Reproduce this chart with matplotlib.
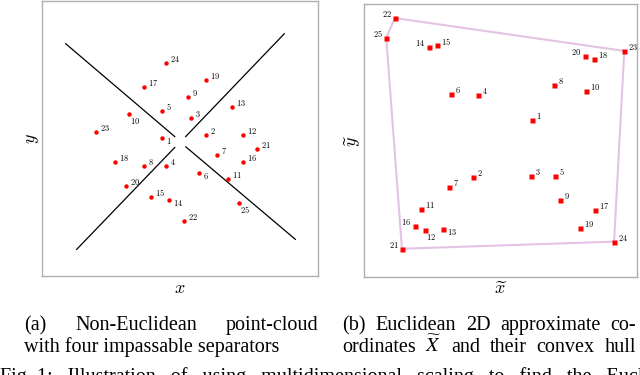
import matplotlib
matplotlib.use("Agg")
import matplotlib.pyplot as plt
import numpy as np

plt.rcParams['mathtext.fontset'] = 'cm'
plt.rcParams['font.family'] = 'Liberation Serif'

# (a) non-euclidean point cloud
ids = list(range(1, 26))
pts_a = {
    1: (-0.128, 0.000), 2: (0.188, 0.024), 3: (0.082, 0.150), 4: (-0.104, -0.201),
    5: (-0.128, 0.198), 6: (0.136, -0.251), 7: (0.268, -0.125), 8: (-0.261, -0.201),
    9: (0.056, 0.297), 10: (-0.367, 0.174), 11: (0.348, -0.299), 12: (0.454, 0.024),
    13: (0.375, 0.225), 14: (-0.078, -0.451), 15: (-0.210, -0.425), 16: (0.454, -0.176),
    17: (-0.263, 0.372), 18: (-0.473, -0.176), 19: (0.188, 0.422), 20: (-0.393, -0.350),
    21: (0.560, -0.076), 22: (0.029, -0.599), 23: (-0.607, 0.049), 24: (-0.104, 0.549),
    25: (0.428, -0.473),
}
# separators: (x0, y0, x1, y1)
separators = [
    (-0.828, 0.686, -0.038, 0.012),
    (0.041, 0.012, 0.756, 0.759),
    (-0.749, -0.807, -0.038, -0.067),
    (0.043, -0.063, 0.836, -0.734),
]

# (b) euclidean 2D approximation
pts_b = {
    1: (0.231, 0.148), 2: (-0.199, -0.267), 3: (0.221, -0.260), 4: (-0.163, 0.331),
    5: (0.401, -0.260), 6: (-0.360, 0.343), 7: (-0.375, -0.338), 8: (0.392, 0.407),
    9: (0.436, -0.438), 10: (0.626, 0.365), 11: (-0.582, -0.502), 12: (-0.553, -0.656),
    13: (-0.423, -0.646), 14: (-0.526, 0.685), 15: (-0.465, 0.697), 16: (-0.629, -0.626),
    17: (0.690, -0.509), 18: (0.687, 0.599), 19: (0.582, -0.643), 20: (0.619, 0.621),
    21: (-0.722, -0.793), 22: (-0.773, 0.897), 23: (0.907, 0.656), 24: (0.832, -0.741),
    25: (-0.837, 0.753),
}
hull = [22, 23, 24, 21, 25]

cap_a = [['(a)', 'Non-Euclidean', 'point-cloud'],
         ['with four impassable separators']]
cap_b = [['(b)', 'Euclidean', '2D', 'approximate', 'co-'],
         ['ordinates', r'$\widetilde{X}$', 'and', 'their', 'convex', 'hull']]
fig_caption = 'Fig. 1:   Illustration   of   using   multidimensional   scaling   to   find   the   Euclidean'

# label placement (pixels)
offsets = {'ur': (4, 4, 'left'), 'ul': (-3.5, 4, 'right'),
           'lr': (4, -3, 'left'), 'b': (0.5, -6.5, 'left')}
place_a = {10: 'b', 25: 'b', 1: 'lr', 6: 'lr', 14: 'lr'}
place_b = {22: 'ul', 25: 'ul', 14: 'ul', 20: 'ul', 16: 'ul', 21: 'ul', 12: 'b', 13: 'lr'}

fig = plt.figure(figsize=(6.4, 3.75), dpi=100)
W, H = 640, 375
ax1 = fig.add_axes([42 / W, 1 - 276 / H, 276 / W, 275.5 / H])
ax2 = fig.add_axes([364 / W, 1 - 277 / H, 273 / W, 273 / H])


def label_points(ax, pts, place):
    for k in ids:
        dx, dy, ha = offsets[place.get(k, 'ur')]
        ax.annotate(f"${k}$", pts[k], xytext=(dx, dy), textcoords='offset pixels',
                    ha=ha, va='center', fontsize=6)


for (x0, y0, x1, y1) in separators:
    ax1.plot([x0, x1], [y0, y1], color='black', lw=0.9)
xa = [pts_a[k][0] for k in ids]
ya = [pts_a[k][1] for k in ids]
ax1.plot(xa, ya, 'o', color='#ff0000', ms=3.2, mec='none')
label_points(ax1, pts_a, place_a)

hx = [pts_b[k][0] for k in hull + hull[:1]]
hy = [pts_b[k][1] for k in hull + hull[:1]]
ax2.plot(hx, hy, color='#e3c3e3', lw=1.5, zorder=1)
xb = [pts_b[k][0] for k in ids]
yb = [pts_b[k][1] for k in ids]
ax2.plot(xb, yb, 's', color='#ff0000', ms=3.6, mec='none', zorder=2)
label_points(ax2, pts_b, place_b)

for ax in (ax1, ax2):
    ax.set_xlim(-1, 1)
    ax.set_ylim(-1, 1)
    ax.set_xticks([])
    ax.set_yticks([])
    for s in ax.spines.values():
        s.set_color('#b0b0b0')
        s.set_linewidth(1.0)

ax1.set_xlabel(r'$x$', fontsize=13, labelpad=3)
ax1.set_ylabel(r'$y$', fontsize=13, labelpad=1)
ax2.set_xlabel(r'$\widetilde{x}$', fontsize=13, labelpad=3)
ax2.set_ylabel(r'$\widetilde{y}$', fontsize=13, labelpad=1)

# captions, justified word by word between x0 and x1 (pixels)
cs = 14.5
renderer = fig.canvas.get_renderer()


def justify(words, x0, x1, ybase):
    texts = [fig.text(0, 1 - ybase / H, w, fontsize=cs, ha='left', va='baseline',
                      math_fontfamily='stix') for w in words]
    widths = [t.get_window_extent(renderer).width for t in texts]
    if len(words) == 1:
        texts[0].set_x(x0 / W)
        return
    gap = (x1 - x0 - sum(widths)) / (len(words) - 1)
    x = x0
    for t, w in zip(texts, widths):
        t.set_x(x / W)
        x += w + gap


justify(cap_a[0], 24, 318, 330)
justify(cap_a[1], 24, 318, 352)
justify(cap_b[0], 342, 636, 330)
justify(cap_b[1], 342, 636, 352)

fig.text(0, 1 - 382 / H, fig_caption, fontsize=cs, ha='left', va='baseline')

fig.savefig('out.png', dpi=100)
